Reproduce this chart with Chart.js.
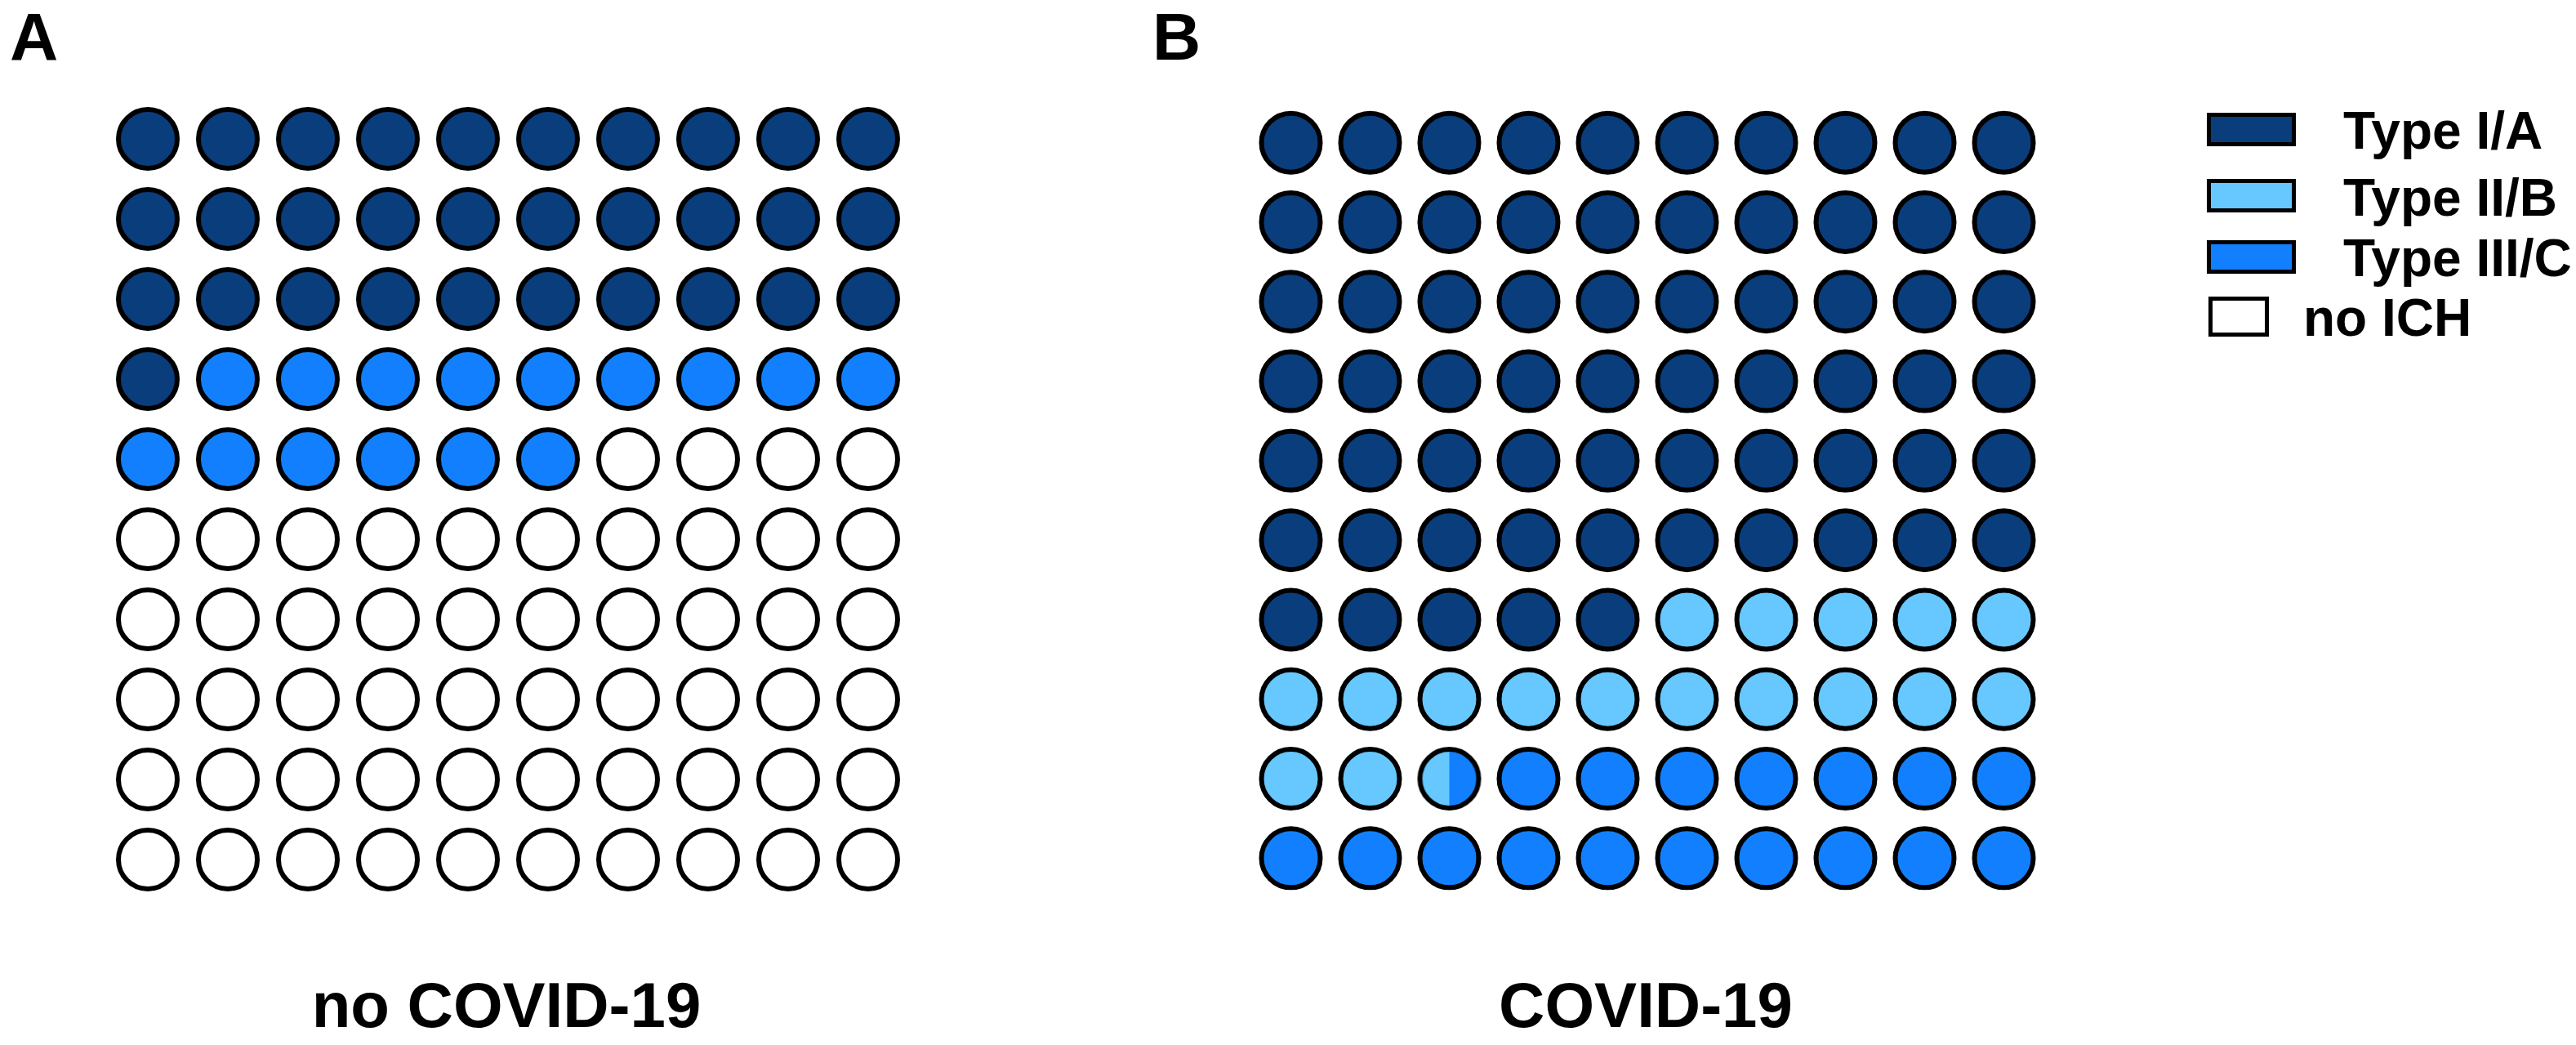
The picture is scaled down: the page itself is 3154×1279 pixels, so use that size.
<!DOCTYPE html>
<html>
<head>
<meta charset="utf-8">
<script src="https://cdn.jsdelivr.net/npm/chart.js@4.4.0/dist/chart.umd.min.js"></script>
<style>
  body { margin: 0; background: #fff; width: 3154px; height: 1279px; position: relative; overflow: hidden;
         font-family: "Liberation Sans", Arial, sans-serif; font-weight: bold; color: #000; }
  .abs { position: absolute; }
  .letter { font-size: 82px; line-height: 82px; }
  .title { font-size: 78px; line-height: 78px; width: 800px; text-align: center; }
  .legbox { position: absolute; box-sizing: border-box; border: 5px solid #000; }
  .legtext { position: absolute; font-size: 64px; line-height: 64px; white-space: nowrap; }
</style>
</head>
<body>
<div class="abs letter" style="left:12px; top:4px;">A</div>
<div class="abs letter" style="left:1411px; top:4px;">B</div>

<div class="abs" style="left:132px; top:121px; width:980px; height:980px;"><canvas id="chartA"></canvas></div>
<div class="abs" style="left:1532px; top:126px; width:970px; height:973px;"><canvas id="chartB"></canvas></div>

<div class="abs title" id="titleA" style="left:220px; top:1191px;"></div>
<div class="abs title" id="titleB" style="left:1615px; top:1191px;"></div>

<div id="legend"></div>

<script>
// Categories and colours
const categories = ['Type I/A', 'Type II/B', 'Type III/C', 'no ICH'];
const colors = ['#0a3d7c', '#66c8fe', '#1280fe', '#ffffff'];

// Number of patients (out of 100) per category
const noCovidCounts = [31, 0, 15, 54];
const covidCounts = [65, 17.5, 17.5, 0];

const panelTitles = ['no COVID-19', 'COVID-19'];

const GRID = 10;
const RADIUS = 36;
const BORDER = 6;

// Half-and-half dot for cells shared by two categories
function splitDot(leftColor, rightColor, frac) {
    const size = 2 * (RADIUS + BORDER);
    const c = document.createElement('canvas');
    c.width = size; c.height = size;
    const g = c.getContext('2d');
    const cx = size / 2, cy = size / 2;
    g.save();
    g.beginPath();
    g.arc(cx, cy, RADIUS, 0, Math.PI * 2);
    g.clip();
    g.fillStyle = rightColor;
    g.fillRect(0, 0, size, size);
    g.fillStyle = leftColor;
    g.fillRect(0, 0, cx - RADIUS + frac * 2 * RADIUS, size);
    g.restore();
    g.beginPath();
    g.arc(cx, cy, RADIUS, 0, Math.PI * 2);
    g.lineWidth = BORDER;
    g.strokeStyle = '#000';
    g.stroke();
    return c;
}

// Turn category counts into one dataset per category (cells filled row by row)
function buildDatasets(counts) {
    const datasets = categories.map((name, i) => ({
        label: name,
        data: [],
        backgroundColor: colors[i],
        borderColor: '#000',
        borderWidth: BORDER,
        pointRadius: RADIUS,
        pointStyle: 'circle'
    }));
    const bounds = [];
    let acc = 0;
    counts.forEach(v => { bounds.push([acc, acc + v]); acc += v; });

    for (let k = 0; k < GRID * GRID; k++) {
        const pt = { x: k % GRID, y: Math.floor(k / GRID) };
        const parts = [];
        bounds.forEach((b, i) => {
            const ov = Math.min(b[1], k + 1) - Math.max(b[0], k);
            if (ov > 1e-9) parts.push([i, ov]);
        });
        if (parts.length === 1) {
            datasets[parts[0][0]].data.push(pt);
        } else {
            datasets.push({
                label: 'split',
                data: [pt],
                pointStyle: splitDot(colors[parts[0][0]], colors[parts[1][0]], parts[0][1]),
                pointRadius: RADIUS
            });
        }
    }
    return datasets;
}

function makeChart(id, counts) {
    const ctx = document.getElementById(id).getContext('2d');
    return new Chart(ctx, {
        type: 'scatter',
        data: { datasets: buildDatasets(counts) },
        options: {
            responsive: true,
            maintainAspectRatio: false,
            animation: false,
            events: [],
            layout: { padding: 0, autoPadding: false },
            plugins: { legend: { display: false }, tooltip: { enabled: false } },
            scales: {
                x: { display: false, min: -0.5, max: GRID - 0.5 },
                y: { display: false, min: -0.5, max: GRID - 0.5, reverse: true }
            }
        }
    });
}

document.getElementById('titleA').textContent = panelTitles[0];
document.getElementById('titleB').textContent = panelTitles[1];

// Legend
const legendBoxes = [
    { l: 2702, t: 138, w: 109, h: 41, tx: 2869, base: 182 },
    { l: 2702, t: 219, w: 109, h: 41, tx: 2869, base: 264 },
    { l: 2702, t: 294, w: 109, h: 41, tx: 2869, base: 338 },
    { l: 2704, t: 363, w: 74, h: 49, tx: 2820, base: 411 }
];
const legend = document.getElementById('legend');
categories.forEach((name, i) => {
    const b = legendBoxes[i];
    const box = document.createElement('div');
    box.className = 'legbox';
    box.style.cssText = `left:${b.l}px;top:${b.t}px;width:${b.w}px;height:${b.h}px;background:${colors[i]};`;
    legend.appendChild(box);
    const txt = document.createElement('div');
    txt.className = 'legtext';
    txt.style.cssText = `left:${b.tx}px;top:${b.base - 54}px;`;
    txt.textContent = name;
    legend.appendChild(txt);
});

document.addEventListener('DOMContentLoaded', () => {
    makeChart('chartA', noCovidCounts);
    makeChart('chartB', covidCounts);
});
</script>
</body>
</html>
